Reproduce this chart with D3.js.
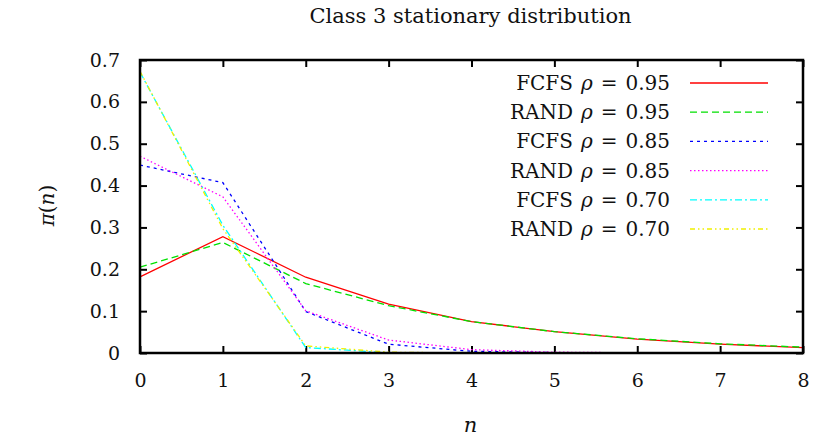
<!DOCTYPE html>
<html>
<head>
<meta charset="utf-8">
<script src="https://cdn.jsdelivr.net/npm/d3@7"></script>
<style>
  body { margin: 0; background: #fff; }
  svg text { font-family: "DejaVu Serif", "Liberation Serif", serif; fill: #111; }
</style>
</head>
<body>
<div id="chart"></div>
<script>
const WIDTH = 816;
const HEIGHT = 440;
const margin = { top: 60, right: 13, bottom: 87, left: 140 };
const FONT = "DejaVu Serif, Liberation Serif, serif";

// --------------- Data ---------------
const nValues = [0, 1, 2, 3, 4, 5, 6, 7, 8];
const xTicks = [0, 1, 2, 3, 4, 5, 6, 7, 8];
const yTicks = [0, 0.1, 0.2, 0.3, 0.4, 0.5, 0.6, 0.7];

const fcfs95 = [0.182, 0.278, 0.181, 0.117, 0.075, 0.051, 0.033, 0.021, 0.013];
const rand95 = [0.205, 0.264, 0.166, 0.113, 0.075, 0.051, 0.034, 0.022, 0.014];
const fcfs85 = [0.449, 0.407, 0.099, 0.021, 0.004, 0.001, 0, 0, 0];
const rand85 = [0.470, 0.373, 0.101, 0.031, 0.008, 0.002, 0.0005, 0, 0];
const fcfs70 = [0.671, 0.305, 0.013, 0.0005, 0, 0, 0, 0, 0];
const rand70 = [0.673, 0.297, 0.017, 0.002, 0, 0, 0, 0, 0];

const seriesNames = ["FCFS", "RAND", "FCFS", "RAND", "FCFS", "RAND"];
const seriesRho = ["0.95", "0.95", "0.85", "0.85", "0.70", "0.70"];
const seriesValues = [fcfs95, rand95, fcfs85, rand85, fcfs70, rand70];
const seriesColors = ["#ff0000", "#00e000", "#0000ff", "#ff00ff", "#00ffff", "#f0f000"];
const seriesDash = [null, "7,4", "3,4", "1.5,2.5", "7,3,2,3", "5,3,1.5,3,1.5,3"];

// --------------- Scales ---------------
const w = WIDTH - margin.left - margin.right;
const h = HEIGHT - margin.top - margin.bottom;

const x = d3.scaleLinear().domain([0, 8]).range([0, w]);
const y = d3.scaleLinear().domain([0, 0.7]).range([h, 0]);

const svg = d3.select("#chart").append("svg")
  .attr("width", WIDTH)
  .attr("height", HEIGHT);

const g = svg.append("g")
  .attr("transform", "translate(" + margin.left + "," + margin.top + ")");

// title
svg.append("text")
  .attr("x", margin.left + w / 2 - 1)
  .attr("y", 23)
  .attr("text-anchor", "middle")
  .attr("font-size", 21)
  .text("Class 3 stationary distribution");

// --------------- Axes (ticks mirrored inwards) ---------------
const TICK = 7;
const fmtY = d => d === 0 ? "0" : d3.format(".1f")(d);

g.append("g")
  .attr("transform", "translate(0," + h + ")")
  .call(d3.axisBottom(x).tickValues(xTicks).tickSize(-TICK).tickPadding(21).tickFormat(d3.format("d")))
  .call(a => a.select(".domain").remove());

g.append("g")
  .call(d3.axisTop(x).tickValues(xTicks).tickSize(-TICK).tickFormat(""))
  .call(a => a.select(".domain").remove());

g.append("g")
  .call(d3.axisLeft(y).tickValues(yTicks).tickSize(-TICK).tickPadding(20).tickFormat(fmtY))
  .call(a => a.select(".domain").remove());

g.append("g")
  .attr("transform", "translate(" + w + ",0)")
  .call(d3.axisRight(y).tickValues(yTicks).tickSize(-TICK).tickFormat(""))
  .call(a => a.select(".domain").remove());

g.selectAll(".tick line").attr("stroke", "#000").attr("stroke-width", 2);
g.selectAll(".tick text")
  .attr("font-size", 19)
  .attr("font-family", FONT)
  .attr("fill", "#111");

// --------------- Lines ---------------
const line = d3.line()
  .x((d, i) => x(nValues[i]))
  .y(d => y(d));

g.append("g")
  .selectAll("path")
  .data(seriesValues)
  .enter()
  .append("path")
  .attr("d", line)
  .attr("fill", "none")
  .attr("stroke", (d, i) => seriesColors[i])
  .attr("stroke-width", 1.3)
  .attr("stroke-dasharray", (d, i) => seriesDash[i]);

// frame
g.append("rect")
  .attr("width", w)
  .attr("height", h)
  .attr("fill", "none")
  .attr("stroke", "#000")
  .attr("stroke-width", 2.5);

// --------------- Legend ---------------
const legend = g.append("g").attr("transform", "translate(" + (670 - margin.left) + ",0)");
const rowH = 29.2;

const rows = legend.selectAll("g")
  .data(seriesValues)
  .enter()
  .append("g")
  .attr("transform", (d, i) => "translate(0," + (23 + i * rowH) + ")");

const label = rows.append("text")
  .attr("text-anchor", "end")
  .attr("dy", "0.35em")
  .attr("font-size", 20);
label.append("tspan").text((d, i) => seriesNames[i]);
label.append("tspan").attr("dx", 8).attr("font-style", "italic").text("ρ");
label.append("tspan").attr("dx", 8).text("=");
label.append("tspan").attr("dx", 8).text((d, i) => seriesRho[i]);

rows.append("line")
  .attr("x1", 20)
  .attr("x2", 98)
  .attr("stroke", (d, i) => seriesColors[i])
  .attr("stroke-width", 1.3)
  .attr("stroke-dasharray", (d, i) => seriesDash[i]);

// axis labels
svg.append("text")
  .attr("transform", "translate(54," + (margin.top + h / 2 - 1) + ") rotate(-90)")
  .attr("text-anchor", "middle")
  .attr("font-size", 20)
  .html('<tspan font-style="italic">π</tspan>(<tspan font-style="italic">n</tspan>)');

svg.append("text")
  .attr("x", margin.left + w / 2 - 1)
  .attr("y", 432)
  .attr("text-anchor", "middle")
  .attr("font-size", 21)
  .attr("font-style", "italic")
  .text("n");
</script>
</body>
</html>
